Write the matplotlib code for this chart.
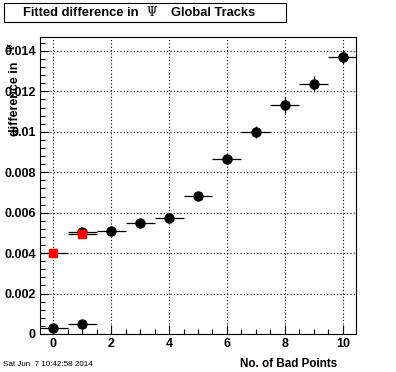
import matplotlib.pyplot as plt
from matplotlib.ticker import MultipleLocator
from matplotlib.patches import Rectangle

plt.rcParams['font.family'] = ['Liberation Sans', 'DejaVu Sans']

# black points: fitted difference per number of bad points
bad_points = [0, 1, 2, 3, 4, 5, 6, 7, 8, 9, 10]
diff = [0.0003, 0.00505, 0.0051, 0.00548, 0.00572, 0.00683, 0.00866,
        0.00999, 0.01131, 0.01235, 0.01369]
diff_err = [0.0001, 0.0001, 0.0001, 0.0001, 0.0001, 0.00015, 0.00025,
            0.0003, 0.0004, 0.0004, 0.00035]
# extra black point at 1 near zero
low_x = [1]
low_y = [0.0005]
# red squares
red_x = [0, 1]
red_y = [0.004, 0.00497]

fig = plt.figure(figsize=(3.96, 3.72), dpi=100)
ax = fig.add_axes([40 / 396, 1 - 334 / 372, 316 / 396, 297 / 372])

ax.errorbar(bad_points, diff, xerr=0.5, yerr=diff_err, fmt='o', color='black',
            ms=6.5, elinewidth=0.9, capsize=0, zorder=3)
ax.errorbar(low_x, low_y, xerr=0.5, fmt='o', color='black',
            ms=6.5, elinewidth=0.9, capsize=0, zorder=3)
ax.errorbar(red_x, red_y, xerr=0.5, fmt='s', color='red', ecolor='black',
            ms=5.8, elinewidth=0.9, capsize=0, zorder=4)

ax.set_xlim(-0.45, 10.45)
ax.set_ylim(0, 0.01469)
ax.xaxis.set_major_locator(MultipleLocator(2))
ax.xaxis.set_minor_locator(MultipleLocator(0.5))
ax.yaxis.set_major_locator(MultipleLocator(0.002))
ax.yaxis.set_minor_locator(MultipleLocator(0.0004))
ax.tick_params(which='both', direction='in', top=False, right=False,
               labelsize=9, width=0.8)
ax.tick_params(which='major', length=6.8)
ax.tick_params(which='minor', length=3.4)
ax.tick_params(axis='x', pad=3)
ax.tick_params(axis='y', pad=3)
ax.yaxis.set_major_formatter(plt.FuncFormatter(lambda v, p: '0' if v == 0 else ('%g' % round(v, 4))))
for lab in ax.get_xticklabels() + ax.get_yticklabels():
    lab.set_fontweight('bold')
ax.grid(True, which='major', linestyle=(0, (1, 2)), color='black', linewidth=0.8)
for s in ax.spines.values():
    s.set_linewidth(0.8)

# title box
fig.patches.append(Rectangle((4 / 396, 1 - 22 / 372), 282 / 396, 19 / 372,
                             transform=fig.transFigure, facecolor='white',
                             edgecolor='black', linewidth=0.8))
fig.text(23 / 396, 1 - 13 / 372, 'Fitted difference in', ha='left',
         va='center', fontsize=9.3, fontweight='bold')
fig.text(152 / 396, 1 - 13 / 372, 'Ψ', ha='center', va='center',
         fontsize=8.5, family='DejaVu Serif')
fig.text(255 / 396, 1 - 13 / 372, 'Global Tracks', ha='right',
         va='center', fontsize=9.3, fontweight='bold')

fig.text(15 / 396, 1 - 62 / 372, 'difference in', rotation=90,
         ha='center', va='top', fontsize=9, fontweight='bold')
fig.text(12 / 396, 1 - 47 / 372, 'Ψ', rotation=90, ha='center',
         va='center', fontsize=7.5, family='DejaVu Serif')
fig.text(337 / 396, 1 - 364 / 372, 'No. of Bad Points', ha='right',
         va='center', fontsize=8.4, fontweight='bold')
fig.text(3 / 396, 1 - 364 / 372, 'Sat Jun  7 10:42:58 2014', ha='left',
         va='center', fontsize=5.8)

fig.savefig('out.png', dpi=100)
